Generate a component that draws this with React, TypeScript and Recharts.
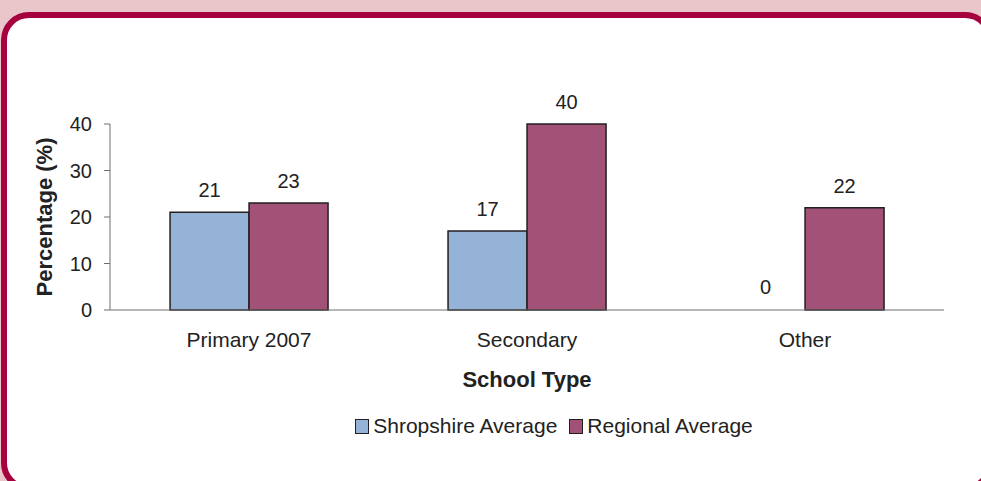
import { Bar, BarChart, LabelList, Legend, Rectangle, XAxis, YAxis } from "recharts";

const categories = ["Primary 2007", "Secondary", "Other"];
const shropshire = [21, 17, 0];
const regional = [23, 40, 22];
const yTicks = [0, 10, 20, 30, 40];
const seriesNames = ["Shropshire Average", "Regional Average"];

const data = categories.map((category, i) => ({
  category,
  shropshire: shropshire[i],
  regional: regional[i],
}));

// boundary ticks between categories (0..n)
const dividerTicks = [...categories.map((_, i) => i), categories.length];

const FONT = '"Liberation Sans", Arial, sans-serif';
const INK = "#222";
const AXIS = "#6e6e6e";

function YTitle(props: any) {
  const vb = props.viewBox || {};
  const x = (vb.x || 0) + 52;
  const y = (vb.y || 0) + (vb.height || 0) / 2;
  return (
    <text
      x={x}
      y={y}
      transform={`rotate(-90, ${x}, ${y})`}
      textAnchor="middle"
      fill={INK}
      fontSize={22}
      fontWeight="bold"
      fontFamily={FONT}
    >
      Percentage (%)
    </text>
  );
}

// value label above each bar, zero-height bars included
function ValueLabel(props: any) {
  const { x, y, width, height, value } = props;
  if (value == null || x == null) return null;
  const top = Math.min(Number(y), Number(y) + Number(height || 0));
  return (
    <text
      x={Number(x) + Number(width) / 2}
      y={top - 15}
      textAnchor="middle"
      fill={INK}
      fontSize={20}
      fontFamily={FONT}
    >
      {value}
    </text>
  );
}

// zero values keep their slot (for the label) but draw no rectangle
function BarShape(props: any) {
  if (!props.value) return <g />;
  return <Rectangle {...props} />;
}

function LegendBox({ payload }: any) {
  const items = [...(payload || [])].sort(
    (a: any, b: any) => seriesNames.indexOf(a.value) - seriesNames.indexOf(b.value)
  );
  return (
    <div
      style={{
        height: 30,
        display: "flex",
        alignItems: "center",
        justifyContent: "center",
        paddingLeft: 164,
        gap: 12,
        fontSize: 21,
        color: INK,
        fontFamily: FONT,
      }}
    >
      {items.map((p: any) => (
        <span key={p.value} style={{ display: "flex", alignItems: "center", gap: 4 }}>
          <span
            style={{
              display: "inline-block",
              width: 12,
              height: 13,
              background: p.color,
              border: "1.5px solid #231f20",
            }}
          />
          {p.value}
        </span>
      ))}
    </div>
  );
}

export default function App() {
  return (
    <div
      style={{
        position: "absolute",
        left: 0,
        top: 0,
        width: 981,
        height: 481,
        overflow: "hidden",
        background: "#e9c6ca",
        fontFamily: FONT,
      }}
    >
      <div
        style={{
          position: "absolute",
          left: 1,
          top: 12,
          width: 992,
          height: 479,
          boxSizing: "border-box",
          border: "6px solid #a6003e",
          borderRadius: 28,
          background: "#fff",
        }}
      />
      <div style={{ position: "absolute", left: 0, top: 0 }}>
        <BarChart
          width={981}
          height={481}
          data={data}
          margin={{ top: 124, right: 37, bottom: 40, left: 0 }}
          barGap={0}
          barCategoryGap="21.6%"
        >
          <XAxis
            xAxisId="div"
            type="number"
            domain={[0, categories.length]}
            ticks={dividerTicks}
            allowDataOverflow
            height={0}
            axisLine={false}
            tick={false}
            tickLine={{ stroke: "#444" }}
            tickSize={6}
          />
          <XAxis
            xAxisId="cat"
            dataKey="category"
            interval={0}
            height={101}
            axisLine={{ stroke: AXIS }}
            tickLine={false}
            tickSize={0}
            tickMargin={22}
            tick={{ fill: INK, fontSize: 21, fontFamily: FONT }}
            label={{
              value: "School Type",
              position: "insideBottom",
              offset: 24,
              fill: INK,
              fontSize: 22,
              fontWeight: "bold",
              fontFamily: FONT,
            }}
          />
          <YAxis
            width={110}
            domain={[0, 40]}
            ticks={yTicks}
            interval={0}
            axisLine={{ stroke: AXIS }}
            tickLine={{ stroke: AXIS }}
            tickSize={6}
            tickMargin={12}
            tick={{ fill: INK, fontSize: 20, fontFamily: FONT }}
            label={(props: any) => <YTitle {...props} />}
          />
          <Legend verticalAlign="bottom" height={30} content={(p: any) => <LegendBox {...p} />} />
          <Bar
            xAxisId="cat"
            dataKey="shropshire"
            name={seriesNames[0]}
            fill="#95b3d7"
            stroke="#231f20"
            strokeWidth={1.5}
            minPointSize={1}
            shape={(p: any) => <BarShape {...p} />}
            isAnimationActive={false}
          >
            <LabelList dataKey="shropshire" content={(p: any) => <ValueLabel {...p} />} />
          </Bar>
          <Bar
            xAxisId="cat"
            dataKey="regional"
            name={seriesNames[1]}
            fill="#a25276"
            stroke="#231f20"
            strokeWidth={1.5}
            isAnimationActive={false}
          >
            <LabelList dataKey="regional" content={(p: any) => <ValueLabel {...p} />} />
          </Bar>
        </BarChart>
      </div>
    </div>
  );
}
